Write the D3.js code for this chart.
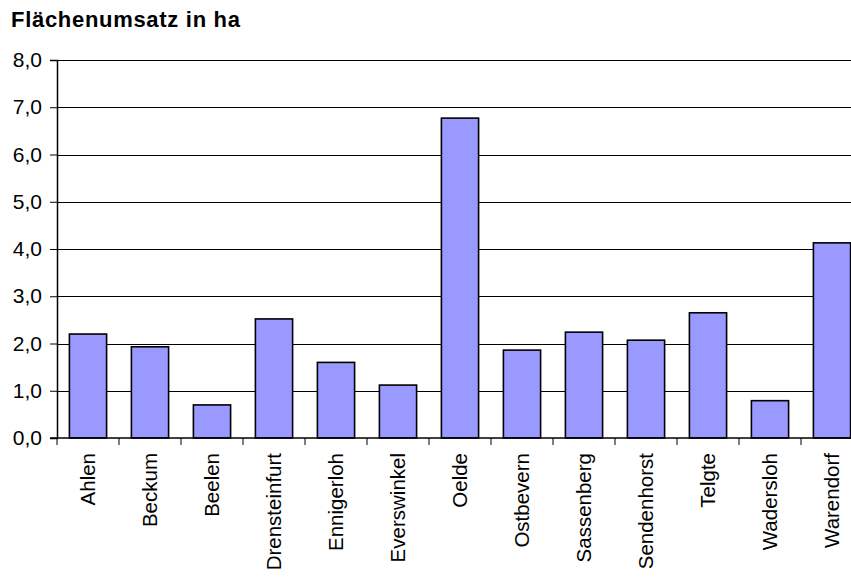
<!DOCTYPE html>
<html lang="de">
<head>
  <meta charset="utf-8">
  <title>Flächenumsatz in ha</title>
  <script src="https://d3js.org/d3.v7.min.js"></script>
  <style>
    body { margin: 0; background: #fff; }
    text { font-family: "Liberation Sans", Arial, sans-serif; }
  </style>
</head>
<body>
<svg id="chart" width="851" height="581"></svg>
<script>
// Gemeinden und Flächenumsatz (ha)
var orte = ["Ahlen", "Beckum", "Beelen", "Drensteinfurt", "Ennigerloh", "Everswinkel",
            "Oelde", "Ostbevern", "Sassenberg", "Sendenhorst", "Telgte", "Wadersloh", "Warendorf"];
var werte = [2.2, 1.93, 0.7, 2.52, 1.6, 1.12, 6.77, 1.86, 2.24, 2.07, 2.65, 0.79, 4.13];
var yTicks = [0, 1, 2, 3, 4, 5, 6, 7, 8];

var data = orte.map((o, i) => ({name: o, value: werte[i]}));

var svg = d3.select("#chart"),
    margin = {top: 60, left: 57, bottom: 438};

// plot area runs past the right edge like the original
var x = d3.scaleBand()
    .domain(orte)
    .range([margin.left, margin.left + 62 * orte.length])
    .paddingInner(0.4)
    .paddingOuter(0.2);

var y = d3.scaleLinear()
    .domain([0, 8])
    .range([margin.bottom, margin.top]);

svg.append("text")
    .attr("x", 11).attr("y", 27)
    .attr("font-size", 22).attr("font-weight", "bold")
    .attr("letter-spacing", 0.7)
    .text("Flächenumsatz in ha");

// gridlines
svg.append("g")
    .selectAll("line")
    .data(yTicks.filter(d => d > 0))
    .enter().append("line")
    .attr("x1", margin.left).attr("x2", 851)
    .attr("y1", d => Math.round(y(d)) + 0.5).attr("y2", d => Math.round(y(d)) + 0.5)
    .attr("stroke", "#000").attr("stroke-width", 1);

// bars
svg.append("g")
    .selectAll("rect")
    .data(data)
    .enter().append("rect")
    .attr("x", d => x(d.name))
    .attr("y", d => y(d.value))
    .attr("width", x.bandwidth())
    .attr("height", d => y(0) - y(d.value))
    .attr("fill", "#9999ff")
    .attr("stroke", "#000")
    .attr("stroke-width", 1.6);

// y axis
var yAxis = svg.append("g")
    .attr("transform", "translate(" + margin.left + ",0)")
    .call(d3.axisLeft(y).tickValues(yTicks).tickSize(7).tickPadding(8)
        .tickFormat(d => d3.format(".1f")(d).replace(".", ",")));
yAxis.select(".domain").attr("stroke-width", 1.5);
yAxis.selectAll("text").attr("font-size", 21).attr("fill", "#000")
    .attr("font-family", "'Liberation Sans', Arial, sans-serif");

// x axis: ticks between categories
var step = x.step();
var xAxis = svg.append("g")
    .attr("transform", "translate(0," + margin.bottom + ")");
xAxis.append("line")
    .attr("x1", margin.left - 7).attr("x2", 851)
    .attr("stroke", "#000").attr("stroke-width", 1.5);
xAxis.selectAll(".tk")
    .data(orte)
    .enter().append("line")
    .attr("class", "tk")
    .attr("x1", (d, i) => margin.left + step * i).attr("x2", (d, i) => margin.left + step * i)
    .attr("y1", 0).attr("y2", 7)
    .attr("stroke", "#000");
xAxis.selectAll(".lbl")
    .data(orte)
    .enter().append("text")
    .attr("class", "lbl")
    .attr("transform", d => "translate(" + (x(d) + x.bandwidth() / 2 + 7) + ",15) rotate(-90)")
    .attr("text-anchor", "end")
    .attr("font-size", 20.5)
    .text(d => d);
</script>
</body>
</html>
